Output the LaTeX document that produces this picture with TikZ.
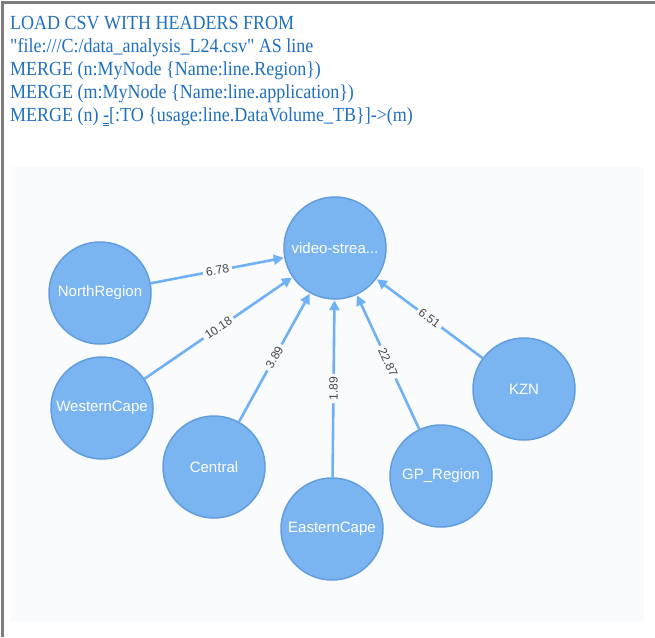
\documentclass[tikz,border=0pt]{standalone}
\usepackage{fontspec}
\usetikzlibrary{arrows.meta}
\newfontfamily\codefont[FakeStretch=0.9]{Liberation Serif}
\newfontfamily\graphfont{Liberation Sans}
\definecolor{codeblue}{RGB}{32,112,192}
\definecolor{panelbg}{RGB}{249,251,253}
\definecolor{nodefill}{RGB}{122,181,241}
\definecolor{nodeborder}{RGB}{98,158,222}
\definecolor{edgeblue}{RGB}{112,176,244}
\definecolor{lblgray}{RGB}{70,70,70}
\definecolor{framegray}{RGB}{125,125,125}
\tikzset{
  codeline/.style={anchor=base west, inner sep=0pt, text=codeblue, font=\codefont\fontsize{20}{23}\selectfont},
  gnode/.style={circle, minimum size=102pt, inner sep=0pt, fill=nodefill, draw=nodeborder, line width=1.5pt, text=white, font=\graphfont\fontsize{15}{17}\selectfont},
  rel/.style={draw=edgeblue, line width=2.6pt, -{Triangle[length=10pt,width=10pt]}, shorten >=0.5pt},
  lbl/.style={sloped, fill=panelbg, inner xsep=3pt, inner ysep=1pt, text=lblgray, font=\graphfont\fontsize{12}{13}\selectfont}
}
\begin{document}
\begin{tikzpicture}[x=1pt,y=-1pt]
\useasboundingbox (0,0) rectangle (655,637);
\fill[white] (0,0) rectangle (655,637);
% frame
\draw[framegray, line width=2.5pt] (2.5,637) -- (2.5,2.5) -- (655,2.5);
% code
\node[codeline] (l1) at (10,29) {LOAD CSV WITH HEADERS FROM};
\node[codeline] (l2) at (10,52) {"file:///C:/data\_analysis\_L24.csv" AS line};
\node[codeline] (l3) at (10,75) {MERGE (n:MyNode \{Name:line.Region\})};
\node[codeline] (l4) at (10,98) {MERGE (m:MyNode \{Name:line.application\})};
\node[codeline] (l5) at (10,121) {MERGE (n) {\rlap{\rule[-3pt]{6pt}{0.8pt}}\rlap{\rule[-5pt]{6pt}{0.8pt}}-}[:TO \{usage:line.DataVolume\_TB\}]->(m)};
% panel
\fill[panelbg] (11,167) rectangle (644,622);
% nodes
\node[gnode] (vs) at (335,248) {video-strea...};
\node[gnode] (nr) at (100,293) {NorthRegion};
\node[gnode] (wc) at (102,408) {WesternCape};
\node[gnode] (ce) at (214,467) {Central};
\node[gnode] (ec) at (332,529) {EasternCape};
\node[gnode] (gp) at (441,476) {GP\_Region};
\node[gnode] (kz) at (524,389) {KZN};
% relationships
\draw[rel] (nr) -- node[lbl] {6.78} (vs);
\draw[rel] (wc) -- node[lbl] {10.18} (vs);
\draw[rel] (ce) -- node[lbl] {3.89} (vs);
\draw[rel] (ec) -- node[lbl] {1.89} (vs);
\draw[rel] (gp) -- node[lbl] {22.87} (vs);
\draw[rel] (kz) -- node[lbl] {6.51} (vs);
\end{tikzpicture}
\end{document}
